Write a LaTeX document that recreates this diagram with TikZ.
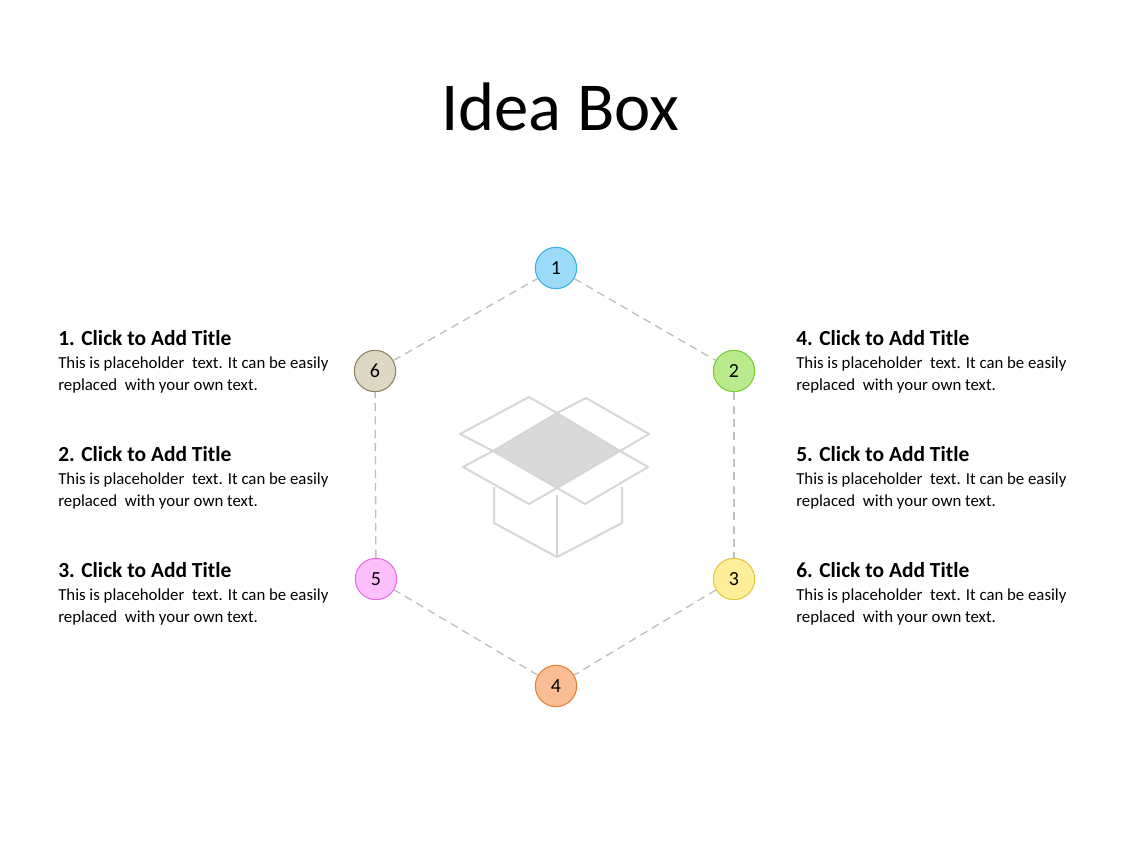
\documentclass[tikz,border=0pt]{standalone}
\usepackage{fontspec}
\setmainfont{Carlito}
\begin{document}
\begin{tikzpicture}[x=0.75pt,y=-0.75pt,
  num/.style={circle,draw,line width=0.8pt,minimum size=31pt,inner sep=0pt,font=\fontsize{15}{17}\selectfont},
  conn/.style={draw=black!25,dashed,line width=1pt,dash pattern=on 6pt off 4pt},
  boxl/.style={draw=black!16,line width=1.5pt,line join=round},
  hd/.style={anchor=base west,font=\bfseries\fontsize{16.1}{18}\selectfont,inner sep=0pt},
  bd/.style={anchor=base west,align=left,font=\fontsize{12.6}{16.5}\selectfont,inner sep=0pt}]
\useasboundingbox (0,0) rectangle (1128,846);
\node[font=\fontsize{51.5}{56}\selectfont] (title) at (560,107) {Idea Box};
% box
\fill[black!15] (493,451)--(557,413)--(620,451)--(557,488)--cycle;
\draw[boxl] (493,451)--(557,413)--(620,451)--(557,488)--cycle;
\draw[boxl] (493,451)--(460,434)--(529,397)--(557,413);
\draw[boxl] (557,413)--(586,398)--(649,434)--(620,451);
\draw[boxl] (493,451)--(463,467)--(529,504)--(557,488);
\draw[boxl] (620,451)--(648,467)--(585,504)--(557,488);
\draw[boxl] (494,487)--(494,523)--(557,557)--(622,523)--(622,487);
\draw[boxl] (557,495)--(557,557);
% circles
\node[num,fill={rgb,255:red,157;green,220;blue,249},draw={rgb,255:red,59;green,176;blue,230}] (n1) at (556,268) {1};
\node[num,fill={rgb,255:red,185;green,235;blue,141},draw={rgb,255:red,122;green,203;blue,58}] (n2) at (734,371) {2};
\node[num,fill={rgb,255:red,255;green,238;blue,153},draw={rgb,255:red,224;green,200;blue,64}] (n3) at (734,579) {3};
\node[num,fill={rgb,255:red,251;green,190;blue,148},draw={rgb,255:red,232;green,128;blue,58}] (n4) at (556,686) {4};
\node[num,fill={rgb,255:red,253;green,192;blue,253},draw={rgb,255:red,232;green,107;blue,232}] (n5) at (376,579) {5};
\node[num,fill={rgb,255:red,221;green,216;blue,196},draw={rgb,255:red,140;green,130;blue,96}] (n6) at (375,371) {6};
\draw[conn] (n1)--(n2); \draw[conn] (n2)--(n3); \draw[conn] (n3)--(n4);
\draw[conn] (n4)--(n5); \draw[conn] (n5)--(n6); \draw[conn] (n6)--(n1);
% texts
\foreach \i/\t/\x/\y in {a/1/58/345,b/2/58/461,c/3/58/577,d/4/796/345,e/5/796/461,f/6/796/577}{
  \node[hd] (h\i) at (\x,\y) {\t. Click to Add Title};
  \node[bd] (t\i) at (\x,\y+23) {This is placeholder\ \ text. It can be easily};
  \node[bd] (u\i) at (\x,\y+45) {replaced\ \ with your own text.};
}
\end{tikzpicture}
\end{document}
